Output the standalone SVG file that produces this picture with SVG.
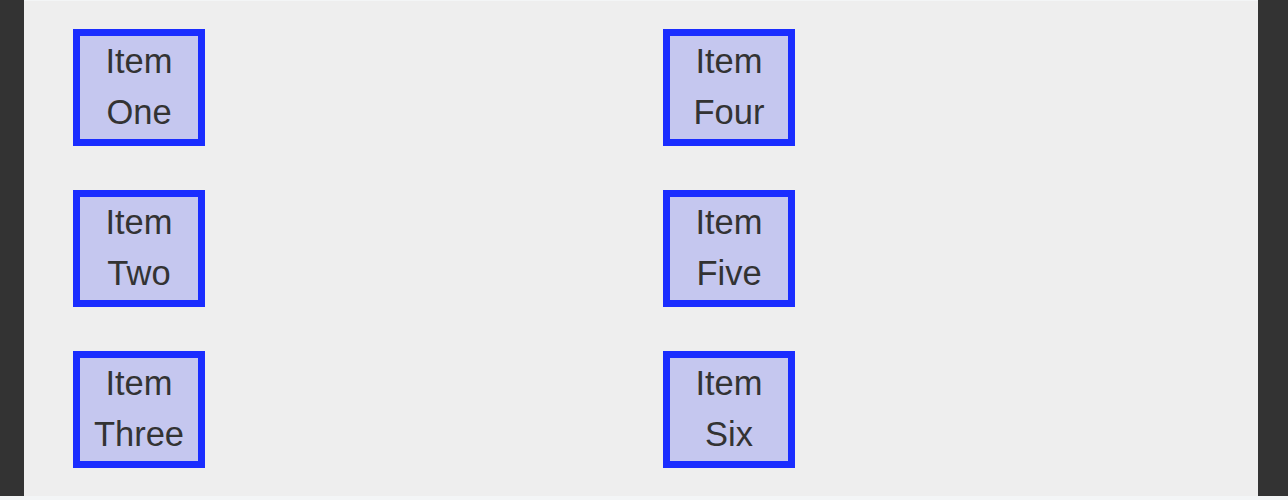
<svg xmlns="http://www.w3.org/2000/svg" width="1288" height="500" viewBox="0 0 1288 500">
<style>
.bg{fill:#eeeeee}
.side{fill:#333333}
.box{fill:#c5c7ef;stroke:#1a2dff;stroke-width:7}
.t{font-family:"Liberation Sans",Arial,sans-serif;font-size:34.5px;fill:#333333;text-anchor:middle}
</style>
<rect x="0" y="0" width="1288" height="500" fill="#f3f5f6"/>
<rect class="bg" x="24" y="1" width="1234" height="495"/>
<rect class="side" x="0" y="0" width="24" height="496"/>
<rect class="side" x="1258" y="0" width="30" height="496"/>
<g id="connectors"></g>
<g id="item-one"><rect class="box" x="76.5" y="32.5" width="125" height="110"/><text class="t" x="139" y="73">Item</text><text class="t" x="139" y="124">One</text></g>
<g id="item-two"><rect class="box" x="76.5" y="193.5" width="125" height="110"/><text class="t" x="139" y="234">Item</text><text class="t" x="139" y="285">Two</text></g>
<g id="item-three"><rect class="box" x="76.5" y="354.5" width="125" height="110"/><text class="t" x="139" y="395">Item</text><text class="t" x="139" y="446">Three</text></g>
<g id="item-four"><rect class="box" x="666.5" y="32.5" width="125" height="110"/><text class="t" x="729" y="73">Item</text><text class="t" x="729" y="124">Four</text></g>
<g id="item-five"><rect class="box" x="666.5" y="193.5" width="125" height="110"/><text class="t" x="729" y="234">Item</text><text class="t" x="729" y="285">Five</text></g>
<g id="item-six"><rect class="box" x="666.5" y="354.5" width="125" height="110"/><text class="t" x="729" y="395">Item</text><text class="t" x="729" y="446">Six</text></g>
</svg>
